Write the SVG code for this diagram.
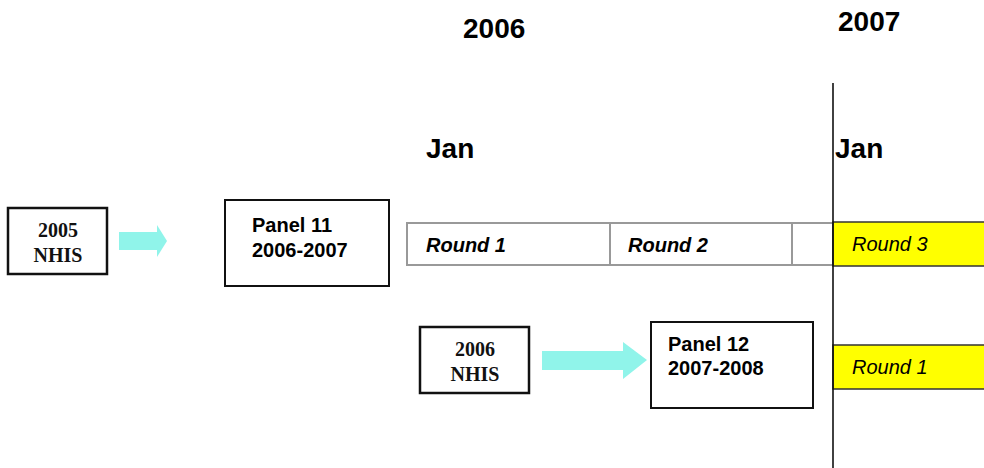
<svg xmlns="http://www.w3.org/2000/svg" width="984" height="468" viewBox="0 0 984 468">
<style>
.hdr{font-family:"Liberation Sans",Arial,sans-serif;font-weight:bold;font-size:28px;fill:#000}
.nhis{font-family:"Liberation Serif","Times New Roman",serif;font-weight:bold;font-size:20px;fill:#111;text-anchor:middle}
.box{fill:#fff;stroke:#111;stroke-width:2}
.nbox{fill:#fff;stroke:#111;stroke-width:2.5}
.panel{font-family:"Liberation Sans",Arial,sans-serif;font-weight:bold;font-size:20px;fill:#000}
.rb{font-family:"Liberation Sans",Arial,sans-serif;font-weight:bold;font-style:italic;font-size:20px;fill:#000}
.ry{font-family:"Liberation Sans",Arial,sans-serif;font-style:italic;font-size:20px;fill:#000}
.bar{fill:#fff;stroke:#999;stroke-width:2}
.yel{fill:#ffff00;stroke:#333;stroke-width:1.5}
.arr{fill:#90f4ea}
</style>
<rect width="984" height="468" fill="#fff"/>
<g id="headers">
<text class="hdr" x="463" y="38">2006</text>
<text class="hdr" x="838" y="31">2007</text>
<text class="hdr" x="426" y="158">Jan</text>
<text class="hdr" x="835" y="158">Jan</text>
</g>
<g id="nhis2005">
<rect class="nbox" x="8" y="208" width="99" height="66"/>
<text class="nhis" x="58" y="237">2005</text>
<text class="nhis" x="58" y="262">NHIS</text>
</g>
<g id="panel11">
<rect class="box" x="225" y="200" width="164" height="86"/>
<text class="panel" x="252" y="232">Panel 11</text>
<text class="panel" x="252" y="257">2006-2007</text>
</g>
<g id="rounds11">
<rect class="bar" x="407" y="223" width="426" height="42"/>
<line x1="610" y1="223" x2="610" y2="265" stroke="#999" stroke-width="2"/>
<line x1="792" y1="223" x2="792" y2="265" stroke="#999" stroke-width="2"/>
<text class="rb" x="426" y="252">Round 1</text>
<text class="rb" x="628" y="252">Round 2</text>
</g>
<g id="round3">
<rect class="yel" x="833" y="222" width="160" height="44"/>
<text class="ry" x="852" y="251">Round 3</text>
</g>
<g id="nhis2006">
<rect class="nbox" x="420" y="327" width="109" height="66"/>
<text class="nhis" x="475" y="356">2006</text>
<text class="nhis" x="475" y="381">NHIS</text>
</g>
<g id="panel12">
<rect class="box" x="651" y="322" width="162" height="86"/>
<text class="panel" x="668" y="351">Panel 12</text>
<text class="panel" x="668" y="375">2007-2008</text>
</g>
<g id="round1p12">
<rect class="yel" x="833" y="345" width="160" height="44"/>
<text class="ry" x="852" y="374">Round 1</text>
</g>
<g id="connectors">
<polygon class="arr" points="119,232 157,232 157,225 167,241 157,257 157,250 119,250"/>
<polygon class="arr" points="542,351 623,351 623,342 647,360 623,379 623,370 542,370"/>
<line x1="833" y1="83" x2="833" y2="468" stroke="#111" stroke-width="1.6"/>
</g>
</svg>
